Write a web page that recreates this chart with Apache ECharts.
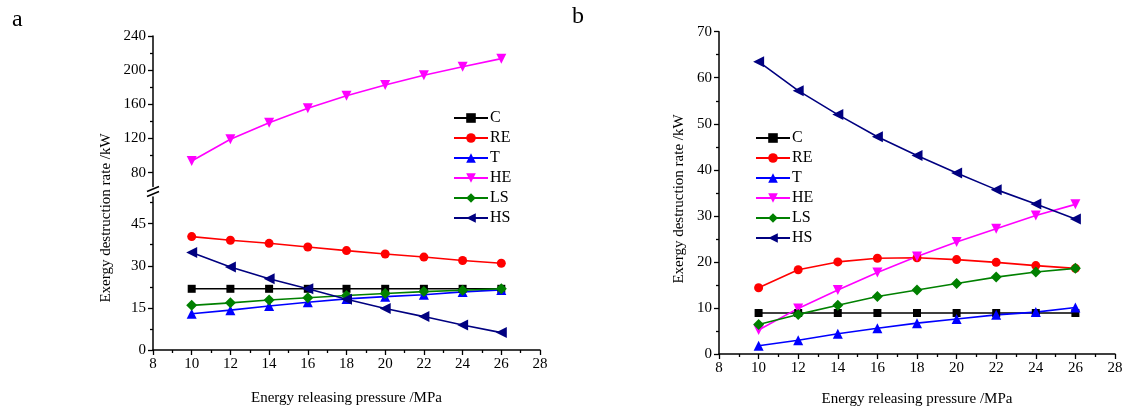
<!DOCTYPE html>
<html>
<head>
<meta charset="utf-8">
<script src="https://cdn.jsdelivr.net/npm/echarts@6/dist/echarts.min.js"></script>
<style>
html,body{margin:0;padding:0;background:#fff;}
#c{width:1126px;height:412px;}
</style>
</head>
<body>
<div id="c"></div>
<script>
// ---- data ----
var pressure = [10, 12, 14, 16, 18, 20, 22, 24, 26];
var seriesNames = ['C', 'RE', 'T', 'HE', 'LS', 'HS'];

// panel a
var aC  = [21.8, 21.8, 21.8, 21.8, 21.8, 21.8, 21.8, 21.8, 21.8];
var aRE = [40.4, 39.1, 38.0, 36.7, 35.4, 34.2, 33.1, 31.9, 30.9];
var aT  = [12.9, 14.2, 15.7, 17.0, 18.2, 19.0, 19.7, 20.7, 21.4];
var aHE = [93.8, 119.2, 138.6, 155.4, 170.2, 182.7, 194.0, 204.1, 213.5];
var aLS = [15.9, 16.8, 17.8, 18.6, 19.4, 20.1, 20.8, 21.3, 21.8];
var aHS = [34.7, 29.6, 25.4, 21.8, 18.1, 14.8, 11.9, 8.9, 6.2];

// panel b
var bC  = [8.9, 8.9, 8.9, 8.9, 8.9, 8.9, 8.9, 8.9, 8.9];
var bRE = [14.4, 18.3, 20.0, 20.8, 20.9, 20.5, 19.9, 19.2, 18.6];
var bT  = [1.8, 3.0, 4.4, 5.6, 6.7, 7.6, 8.5, 9.1, 10.1];
var bHE = [5.2, 9.9, 13.9, 17.7, 21.2, 24.3, 27.2, 30.1, 32.5];
var bLS = [6.4, 8.6, 10.6, 12.5, 13.9, 15.3, 16.7, 17.8, 18.6];
var bHS = [63.5, 57.2, 52.0, 47.2, 43.1, 39.3, 35.7, 32.6, 29.3];

// tick labels
var aUpperTicks = [80, 120, 160, 200, 240];
var aUpperMinor = [100, 140, 180, 220];
var aLowerTicks = [0, 15, 30, 45];
var aLowerMinor = [7.5, 22.5, 37.5, 52.5];

var xName = 'Energy releasing pressure /MPa';
var yName = 'Exergy destruction rate /kW';

// ---- styles ----
var FONT = 'Liberation Serif';
var styles = {
  C:  {color: '#000000', symbol: 'rect', size: 8, rotate: 0},
  RE: {color: '#ff0000', symbol: 'circle', size: 9, rotate: 0},
  T:  {color: '#0000ff', symbol: 'triangle', size: 10, rotate: 0},
  HE: {color: '#ff00ff', symbol: 'triangle', size: 10, rotate: 180},
  LS: {color: '#008000', symbol: 'diamond', size: 11, rotate: 0},
  HS: {color: '#000080', symbol: 'triangle', size: 11, rotate: 90}
};

function zip(ys) { return pressure.map(function (x, i) { return [x, ys[i]]; }); }

function mkSeries(name, ys, xi, yi) {
  var s = styles[name];
  return {
    name: name, type: 'line', data: zip(ys),
    xAxisIndex: xi, yAxisIndex: yi,
    symbol: s.symbol, symbolSize: s.size, symbolRotate: s.rotate,
    showAllSymbol: true,
    lineStyle: {color: s.color, width: 1.6},
    itemStyle: {color: s.color},
    emphasis: {disabled: true},
    animation: false, z: 3
  };
}

var axisLineStyle = {lineStyle: {color: '#000', width: 1.5}};
var labelStyle = {color: '#000', fontFamily: FONT, fontSize: 15, margin: 7};

function xAxisDef(gridIndex, show, gap) {
  return {
    type: 'value', gridIndex: gridIndex, min: 8, max: 28, interval: 2,
    show: show,
    axisLine: axisLineStyle,
    axisTick: {show: true, length: 5, lineStyle: {color: '#000', width: 1.3}},
    minorTick: {show: true, splitNumber: 2, length: 3, lineStyle: {color: '#000', width: 1.3}},
    axisLabel: labelStyle,
    splitLine: {show: false},
    name: show ? xName : '',
    nameLocation: 'middle', nameGap: gap,
    nameTextStyle: {color: '#000', fontFamily: FONT, fontSize: 15}
  };
}

function legendDef(left, top) {
  return {data: seriesNames, orient: 'vertical', left: left, top: top, padding: 0,
    itemWidth: 34, itemHeight: 12, itemGap: 4, selectedMode: false,
    textStyle: {color: '#000', fontFamily: FONT, fontSize: 16, padding: [0, 0, 0, -3]}};
}

var option = {
  backgroundColor: '#ffffff',
  animation: false,
  textStyle: {fontFamily: FONT},
  grid: [
    {left: 153, top: 36, width: 387, height: 150.4, outerBoundsMode: 'none', containLabel: false},
    {left: 153, top: 197, width: 387, height: 153, outerBoundsMode: 'none', containLabel: false},
    {left: 719, top: 31.7, width: 396, height: 322.3, outerBoundsMode: 'none', containLabel: false}
  ],
  xAxis: [
    xAxisDef(0, false, 0),
    xAxisDef(1, true, 41),
    xAxisDef(2, true, 38)
  ],
  yAxis: [
    // 0: left upper
    {type: 'value', gridIndex: 0, min: 64, max: 240, position: 'left',
     axisLine: axisLineStyle,
     axisTick: {show: true, length: 5, customValues: aUpperTicks, lineStyle: {color: '#000', width: 1.3}},
     axisLabel: Object.assign({customValues: aUpperTicks}, labelStyle),
     splitLine: {show: false}},
    // 1: left lower
    {type: 'value', gridIndex: 1, min: 0, max: 54.5, position: 'left',
     axisLine: axisLineStyle,
     axisTick: {show: true, length: 5, customValues: aLowerTicks, lineStyle: {color: '#000', width: 1.3}},
     axisLabel: Object.assign({customValues: aLowerTicks}, labelStyle),
     splitLine: {show: false}},
    // 2: right
    {type: 'value', gridIndex: 2, min: 0, max: 70, interval: 10, position: 'left',
     axisLine: axisLineStyle,
     axisTick: {show: true, length: 5, lineStyle: {color: '#000', width: 1.3}},
     minorTick: {show: true, splitNumber: 2, length: 3, lineStyle: {color: '#000', width: 1.3}},
     axisLabel: labelStyle,
     splitLine: {show: false}},
    // 3: minor ticks left upper
    {type: 'value', gridIndex: 0, min: 64, max: 240, position: 'left', offset: 0,
     axisLine: {show: false},
     axisTick: {show: true, length: 3, customValues: aUpperMinor, lineStyle: {color: '#000', width: 1.3}},
     axisLabel: {show: false}, splitLine: {show: false}},
    // 4: minor ticks left lower
    {type: 'value', gridIndex: 1, min: 0, max: 54.5, position: 'left', offset: 0,
     axisLine: {show: false},
     axisTick: {show: true, length: 3, customValues: aLowerMinor, lineStyle: {color: '#000', width: 1.3}},
     axisLabel: {show: false}, splitLine: {show: false}}
  ],
  legend: [
    legendDef(453, 110),
    legendDef(755, 130)
  ],
  series: [
    mkSeries('C', aC, 1, 1),
    mkSeries('RE', aRE, 1, 1),
    mkSeries('T', aT, 1, 1),
    mkSeries('HE', aHE, 0, 0),
    mkSeries('LS', aLS, 1, 1),
    mkSeries('HS', aHS, 1, 1),
    mkSeries('C', bC, 2, 2),
    mkSeries('RE', bRE, 2, 2),
    mkSeries('T', bT, 2, 2),
    mkSeries('HE', bHE, 2, 2),
    mkSeries('LS', bLS, 2, 2),
    mkSeries('HS', bHS, 2, 2)
  ],
  graphic: [
    {type: 'text', left: 12, top: 8, style: {text: 'a', font: '24px "Liberation Serif"', fill: '#000'}},
    {type: 'text', left: 572, top: 5, style: {text: 'b', font: '24px "Liberation Serif"', fill: '#000'}},
    {type: 'text', x: 106, y: 218, rotation: Math.PI / 2,
     style: {text: yName, font: '15px "Liberation Serif"', fill: '#000', align: 'center', verticalAlign: 'middle'}},
    {type: 'text', x: 679, y: 199, rotation: Math.PI / 2,
     style: {text: yName, font: '15px "Liberation Serif"', fill: '#000', align: 'center', verticalAlign: 'middle'}},
    // axis break marks
    {type: 'line', shape: {x1: 147, y1: 191.5, x2: 159, y2: 186.5}, style: {stroke: '#000', lineWidth: 1.5}},
    {type: 'line', shape: {x1: 147, y1: 196.5, x2: 159, y2: 191.5}, style: {stroke: '#000', lineWidth: 1.5}}
  ]
};

var chart = echarts.init(document.getElementById('c'), null, {renderer: 'canvas'});
chart.setOption(option);
</script>
</body>
</html>
